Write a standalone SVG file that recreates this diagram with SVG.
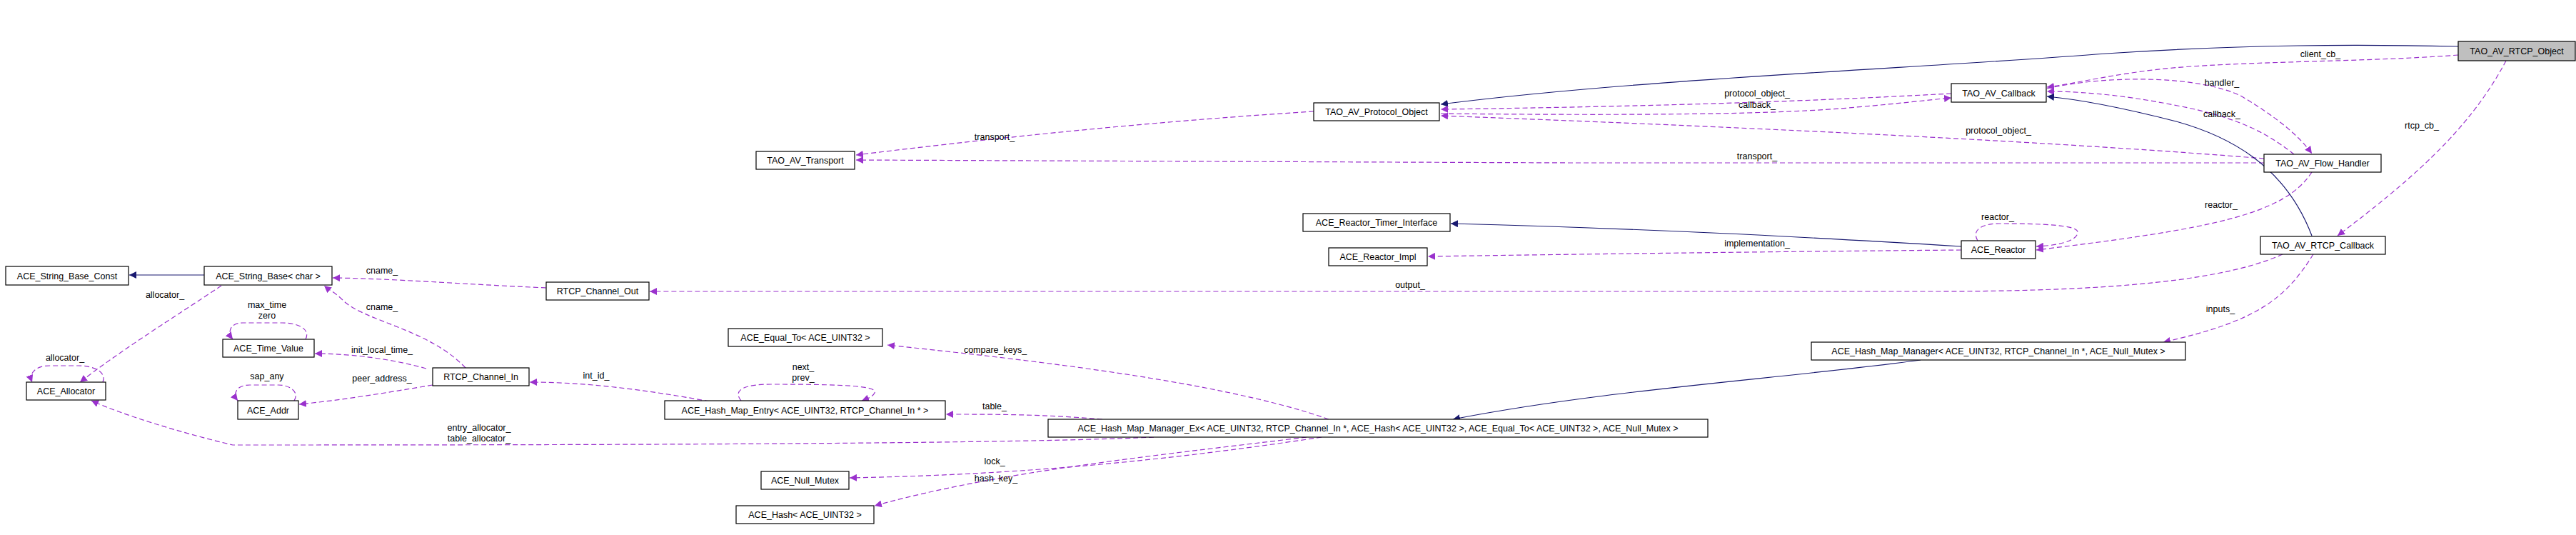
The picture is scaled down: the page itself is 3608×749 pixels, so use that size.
<svg xmlns="http://www.w3.org/2000/svg" width="3608" height="749" viewBox="0 0 3608 749">
<style>
text{font-family:"Liberation Sans",Arial,sans-serif;font-size:12.5px;fill:#000}
.n rect{fill:#fff;stroke:#000;stroke-width:1.2}
.n text{text-anchor:middle}
.u{fill:none;stroke:#9a32cd;stroke-width:1.2;stroke-dasharray:7,4;marker-end:url(#ap)}
.i{fill:none;stroke:#191970;stroke-width:1.2;marker-end:url(#an)}
.l{text-anchor:middle}
</style>
<defs>
<marker id="ap" viewBox="0 0 10 10" refX="10" refY="5" markerWidth="10" markerHeight="10" markerUnits="userSpaceOnUse" orient="auto"><path d="M0,0L10,5L0,10z" fill="#9a32cd"/></marker>
<marker id="an" viewBox="0 0 10 10" refX="10" refY="5" markerWidth="10" markerHeight="10" markerUnits="userSpaceOnUse" orient="auto"><path d="M0,0L10,5L0,10z" fill="#191970"/></marker>
</defs>
<rect width="3608" height="749" fill="#fff"/>
<g id="edges">
<path class="i" d="M3443,65 C3300,62 3150,62 2950,75 C2700,95 2300,110 2018,146"/>
<path class="u" d="M3443,77 C3300,88 3100,85 3000,100 C2940,108 2900,118 2867,122"/>
<text class="l" x="3250" y="80">client_cb_</text>
<path class="u" d="M3510,85 C3460,180 3380,250 3274,330"/>
<text class="l" x="3392" y="180">rtcp_cb_</text>
<path class="u" d="M2733,131 C2600,138 2400,148 2018,153"/>
<text class="l" x="2461" y="135">protocol_object_</text>
<path class="u" d="M2018,159 C2300,162 2500,160 2600,150 C2660,145 2700,140 2733,137"/>
<text class="l" x="2461" y="151">callback_</text>
<path class="u" d="M2867,124 C2950,105 3080,105 3140,135 C3190,165 3220,190 3238,215"/>
<text class="l" x="3112" y="120">handler_</text>
<path class="u" d="M3213,216 C3180,190 3140,165 3050,148 C2960,130 2900,128 2867,128"/>
<text class="l" x="3112" y="164">callback_</text>
<path class="u" d="M3171,222 C2900,200 2500,180 2018,162"/>
<text class="l" x="2799" y="187">protocol_object_</text>
<path class="u" d="M3171,228 L2200,228 L1199,224"/>
<text class="l" x="2461" y="223">transport_</text>
<path class="u" d="M1840,156 C1700,165 1500,180 1199,217"/>
<text class="l" x="1393" y="196">transport_</text>
<path class="u" d="M3238,241 C3200,300 3100,320 2852,350"/>
<text class="l" x="3111" y="291">reactor_</text>
<path class="u" d="M2770,337 C2760,320 2780,313 2800,313 C2860,313 2910,315 2910,325 C2910,338 2880,344 2852,345"/>
<text class="l" x="2798" y="308">reactor_</text>
<path class="i" d="M2747,345 C2500,330 2300,320 2032,313"/>
<path class="u" d="M2747,350 C2500,352 2200,356 2000,359"/>
<text class="l" x="2461" y="345">implementation_</text>
<path class="i" d="M3238,330 C3200,230 3120,190 3048,170 C2950,145 2900,138 2867,135"/>
<path class="u" d="M3197,356 C3100,400 2900,408 2700,408 L910,408"/>
<text class="l" x="1975" y="403">output_</text>
<path class="u" d="M3240,356 C3200,420 3160,450 3030,479"/>
<text class="l" x="3110" y="437">inputs_</text>
<path class="i" d="M2690,504 C2500,530 2250,545 2035,587"/>
<path class="u" d="M1861,587 C1700,530 1400,500 1243,483"/>
<text class="l" x="1394" y="494">compare_keys_</text>
<path class="u" d="M1544,587 C1460,580 1400,580 1325,580"/>
<text class="l" x="1393" y="573">table_</text>
<path class="u" d="M1038,561 C1025,545 1045,538 1080,538 C1180,538 1230,540 1225,550 C1222,556 1215,558 1207,561"/>
<text class="l" x="1125" y="518">next_</text>
<text class="l" x="1125" y="533">prev_</text>
<path class="u" d="M1616,612 C1400,622 800,623 326,623 C250,605 170,580 128,561"/>
<text class="l" x="671" y="603">entry_allocator_</text>
<text class="l" x="671" y="618">table_allocator_</text>
<path class="u" d="M994,562 C900,545 820,535 742,535"/>
<text class="l" x="835" y="530">int_id_</text>
<path class="u" d="M1851,612 C1600,650 1400,665 1190,669"/>
<text class="l" x="1393" y="650">lock_</text>
<path class="u" d="M1830,612 C1600,640 1400,660 1225,708"/>
<text class="l" x="1395" y="674">hash_key_</text>
<path class="u" d="M765,403 C650,398 550,390 466,389"/>
<text class="l" x="535" y="383">cname_</text>
<path class="u" d="M652,515 C600,460 510,450 480,420 C470,410 460,405 454,400"/>
<text class="l" x="535" y="434">cname_</text>
<path class="u" d="M597,516 C540,500 480,495 441,495"/>
<text class="l" x="535" y="494">init_local_time_</text>
<path class="u" d="M606,539 C540,550 480,560 419,566"/>
<text class="l" x="535" y="534">peer_address_</text>
<path class="u" d="M428,475 C435,462 420,452 395,452 L340,452 C322,452 318,465 326,475"/>
<text class="l" x="374" y="431">max_time</text>
<text class="l" x="374" y="446">zero</text>
<path class="u" d="M412,561 C420,548 405,539 390,539 L350,539 C330,539 326,552 333,561"/>
<text class="l" x="374" y="531">sap_any</text>
<path class="i" d="M286,385 L181,385"/>
<path class="u" d="M310,400 C250,440 170,490 112,535"/>
<text class="l" x="231" y="417">allocator_</text>
<path class="u" d="M144,535 C150,520 130,512 110,512 L70,512 C50,512 40,522 45,535"/>
<text class="l" x="91" y="505">allocator_</text>
</g>
<g id="TAO_AV_RTCP_Object" class="n"><rect x="3443" y="58" width="164" height="27" style="fill:#bfbfbf"/><text x="3525" y="76">TAO_AV_RTCP_Object</text></g>
<g id="TAO_AV_Callback" class="n"><rect x="2733" y="117" width="133" height="26"/><text x="2799.5" y="135">TAO_AV_Callback</text></g>
<g id="TAO_AV_Protocol_Object" class="n"><rect x="1840" y="144" width="176" height="25"/><text x="1928" y="161">TAO_AV_Protocol_Object</text></g>
<g id="TAO_AV_Flow_Handler" class="n"><rect x="3171" y="216" width="164" height="25"/><text x="3253" y="233">TAO_AV_Flow_Handler</text></g>
<g id="TAO_AV_Transport" class="n"><rect x="1059" y="212" width="138" height="25"/><text x="1128" y="229">TAO_AV_Transport</text></g>
<g id="ACE_Reactor_Timer_Interface" class="n"><rect x="1825" y="299" width="206" height="25"/><text x="1928" y="316">ACE_Reactor_Timer_Interface</text></g>
<g id="ACE_Reactor_Impl" class="n"><rect x="1861" y="347" width="138" height="25"/><text x="1930" y="364">ACE_Reactor_Impl</text></g>
<g id="ACE_Reactor" class="n"><rect x="2747" y="337" width="104" height="25"/><text x="2799" y="354">ACE_Reactor</text></g>
<g id="TAO_AV_RTCP_Callback" class="n"><rect x="3166" y="331" width="175" height="25"/><text x="3253.5" y="348">TAO_AV_RTCP_Callback</text></g>
<g id="ACE_Hash_Map_Manager" class="n"><rect x="2537" y="479" width="524" height="25"/><text x="2799" y="496">ACE_Hash_Map_Manager&lt; ACE_UINT32, RTCP_Channel_In *, ACE_Null_Mutex &gt;</text></g>
<g id="ACE_String_Base_Const" class="n"><rect x="8" y="373" width="172" height="26"/><text x="94" y="391">ACE_String_Base_Const</text></g>
<g id="ACE_String_Base" class="n"><rect x="286" y="373" width="179" height="26"/><text x="375.5" y="391">ACE_String_Base&lt; char &gt;</text></g>
<g id="RTCP_Channel_Out" class="n"><rect x="765" y="395" width="144" height="25"/><text x="837" y="412">RTCP_Channel_Out</text></g>
<g id="ACE_Time_Value" class="n"><rect x="312" y="475" width="128" height="25"/><text x="376" y="492">ACE_Time_Value</text></g>
<g id="ACE_Allocator" class="n"><rect x="37" y="535" width="111" height="25"/><text x="92.5" y="552">ACE_Allocator</text></g>
<g id="RTCP_Channel_In" class="n"><rect x="606" y="515" width="135" height="25"/><text x="673.5" y="532">RTCP_Channel_In</text></g>
<g id="ACE_Addr" class="n"><rect x="333" y="561" width="85" height="26"/><text x="375.5" y="579">ACE_Addr</text></g>
<g id="ACE_Equal_To" class="n"><rect x="1020" y="460" width="216" height="25"/><text x="1128" y="477">ACE_Equal_To&lt; ACE_UINT32 &gt;</text></g>
<g id="ACE_Hash_Map_Entry" class="n"><rect x="931" y="561" width="393" height="26"/><text x="1127.5" y="579">ACE_Hash_Map_Entry&lt; ACE_UINT32, RTCP_Channel_In * &gt;</text></g>
<g id="ACE_Hash_Map_Manager_Ex" class="n"><rect x="1468" y="587" width="924" height="25"/><text x="1930" y="604">ACE_Hash_Map_Manager_Ex&lt; ACE_UINT32, RTCP_Channel_In *, ACE_Hash&lt; ACE_UINT32 &gt;, ACE_Equal_To&lt; ACE_UINT32 &gt;, ACE_Null_Mutex &gt;</text></g>
<g id="ACE_Null_Mutex" class="n"><rect x="1066" y="660" width="123" height="25"/><text x="1127.5" y="677">ACE_Null_Mutex</text></g>
<g id="ACE_Hash" class="n"><rect x="1031" y="708" width="193" height="25"/><text x="1127.5" y="725">ACE_Hash&lt; ACE_UINT32 &gt;</text></g>
</svg>
